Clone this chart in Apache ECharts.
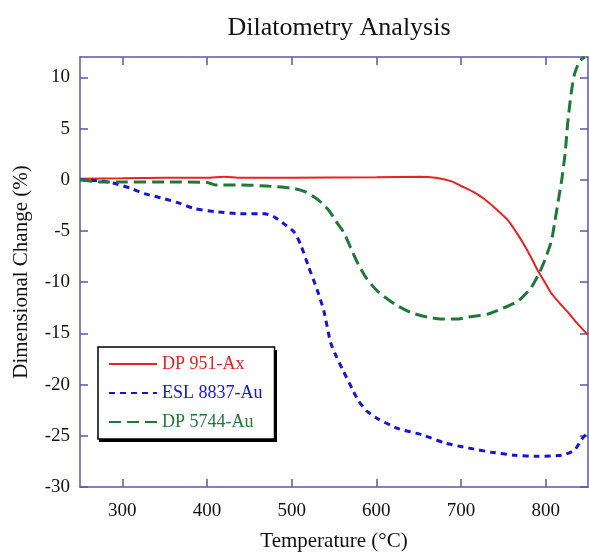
<!DOCTYPE html>
<html>
<head>
<meta charset="utf-8">
<script src="https://cdn.jsdelivr.net/npm/echarts@6/dist/echarts.min.js"></script>
<style>
  html, body { margin: 0; padding: 0; background: #fff; }
  #chart { width: 589px; height: 552px; }
</style>
</head>
<body>
<div id="chart"></div>
<script>
// series names
var seriesNames = ["DP 951-Ax", "ESL 8837-Au", "DP 5744-Au"];

// DP 951-Ax : [temperature, change %]
var dp951 = [
    [250,0.1],[300,0.15],[350,0.2],[400,0.2],[420,0.3],[440,0.2],[500,0.2],[600,0.25],
    [650,0.3],[670,0.2],[689,-0.15],[700,-0.6],[715,-1.2],[728,-1.9],[742,-2.9],[756,-4.0],
    [766,-5.2],[775,-6.4],[783,-7.6],[791,-8.9],[799,-10.0],[806,-11.0],[816,-12.0],
    [826,-12.9],[836,-13.9],[846,-14.8],[850,-15.1]
];

// ESL 8837-Au
var esl8837 = [
    [250,0],[274,-0.1],[289,-0.3],[309,-0.8],[326,-1.35],[350,-1.85],[368,-2.3],[385,-2.8],
    [409,-3.1],[438,-3.3],[468,-3.3],[479,-3.6],[491,-4.3],[503,-5.1],[511,-6.4],[520,-8.5],
    [530,-10.7],[538,-12.8],[546,-15.9],[553,-17.3],[560,-18.5],[572,-20.5],[579,-21.6],
    [589,-22.6],[603,-23.4],[626,-24.3],[654,-24.9],[681,-25.7],[709,-26.2],[736,-26.6],
    [764,-26.9],[791,-27.0],[819,-26.9],[834,-26.4],[842,-25.4],[848,-24.8]
];

// DP 5744-Au
var dp5744 = [
    [250,0],[275,-0.2],[300,-0.2],[350,-0.2],[400,-0.25],[410,-0.5],[440,-0.5],[470,-0.6],
    [503,-0.85],[517,-1.2],[532,-2.0],[544,-3.0],[552,-4.0],[562,-5.2],[570,-6.7],[579,-8.3],
    [589,-9.7],[603,-11.0],[623,-12.2],[642,-13.0],[660,-13.4],[677,-13.6],[695,-13.6],
    [709,-13.4],[732,-13.1],[748,-12.6],[768,-11.8],[783,-10.5],[793,-9.0],[801,-7.4],
    [807,-5.9],[811,-4.0],[815,-2.0],[819,0],[823,2.6],[826,5.5],[830,8.4],[834,10.3],
    [840,11.6],[846,12.0]
];

// tick labels
var xTicks = [300, 400, 500, 600, 700, 800];
var yTicks = [-30, -25, -20, -15, -10, -5, 0, 5, 10];

var colors = ["#e8221f", "#1414d8", "#1c7a36"];
var axisColor = "#5a58a8";
var fontFam = "'Liberation Serif', 'DejaVu Serif', serif";

var myChart = echarts.init(document.getElementById("chart"));

function xAxisOf(pos, showLabel) {
    return {
        type: "value", position: pos, min: 250, max: 850, interval: 50,
        name: showLabel ? "Temperature (\u00B0C)" : "",
        nameLocation: "middle", nameGap: 44,
        nameTextStyle: { fontFamily: fontFam, fontSize: 21, color: "#111" },
        axisLine: { show: true, onZero: false, lineStyle: { color: axisColor, width: 1.5 } },
        axisTick: { show: true, inside: true, length: 8, customValues: xTicks,
            lineStyle: { color: axisColor, width: 1.5 } },
        axisLabel: { show: showLabel, customValues: xTicks, margin: 15,
            fontFamily: fontFam, fontSize: 19, color: "#111" },
        splitLine: { show: false }
    };
}

function yAxisOf(pos, showLabel) {
    return {
        type: "value", position: pos, min: -30, max: 12, interval: 5,
        name: showLabel ? "Dimensional Change (%)" : "",
        nameLocation: "middle", nameGap: 48,
        nameTextStyle: { fontFamily: fontFam, fontSize: 21, color: "#111" },
        axisLine: { show: true, onZero: false, lineStyle: { color: axisColor, width: 1.5 } },
        axisTick: { show: true, inside: true, length: 8, customValues: yTicks,
            lineStyle: { color: axisColor, width: 1.5 } },
        axisLabel: { show: showLabel, customValues: yTicks, margin: 10,
            fontFamily: fontFam, fontSize: 19, color: "#111" },
        splitLine: { show: false }
    };
}

var option = {
    backgroundColor: "#fff",
    animation: false,
    title: {
        text: "Dilatometry Analysis",
        left: 334, top: 10, textAlign: "center",
        textStyle: { fontFamily: fontFam, fontSize: 26, fontWeight: "normal", color: "#111" }
    },
    grid: { left: 80, top: 57, right: 1, bottom: 65, outerBoundsMode: "none" },
    // dark edge under the legend box
    graphic: [{
        type: "rect", z: 0,
        shape: { x: 99, y: 350, width: 178, height: 92 },
        style: { fill: "#000" }
    }],
    legend: {
        orient: "vertical",
        left: 98, top: 347,
        padding: [8, 12, 8, 10],
        itemWidth: 48, itemHeight: 14, itemGap: 11,
        backgroundColor: "#fff",
        borderColor: "#000", borderWidth: 1.5, borderRadius: 0,
        itemStyle: { opacity: 0 },
        textStyle: { fontFamily: fontFam, fontSize: 18 },
        data: [
            { name: seriesNames[0], textStyle: { color: colors[0] } },
            { name: seriesNames[1], textStyle: { color: colors[1] } },
            { name: seriesNames[2], textStyle: { color: colors[2] } }
        ]
    },
    xAxis: [xAxisOf("bottom", true), xAxisOf("top", false)],
    yAxis: [yAxisOf("left", true), yAxisOf("right", false)],
    series: [
        {
            name: seriesNames[0], type: "line", data: dp951, symbol: "none", smooth: 0.2,
            itemStyle: { color: colors[0] },
            lineStyle: { color: colors[0], width: 2 }
        },
        {
            name: seriesNames[1], type: "line", data: esl8837, symbol: "none", smooth: 0.2,
            itemStyle: { color: colors[1] },
            lineStyle: { color: colors[1], width: 3, type: [6, 5] }
        },
        {
            name: seriesNames[2], type: "line", data: dp5744, symbol: "none", smooth: 0.2,
            itemStyle: { color: colors[2] },
            lineStyle: { color: colors[2], width: 3, type: [12, 6] }
        }
    ]
};

myChart.setOption(option);
</script>
</body>
</html>
